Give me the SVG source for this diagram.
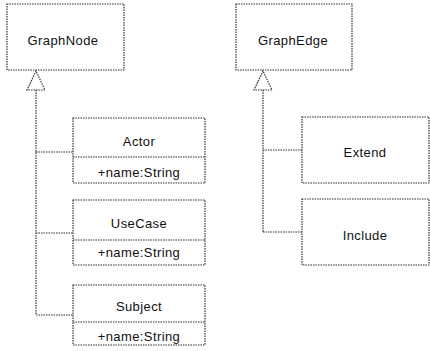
<svg xmlns="http://www.w3.org/2000/svg" width="430" height="351" viewBox="0 0 430 351">
<style>
.box{fill:#fff;stroke:#333;stroke-width:1.2;stroke-dasharray:1.5 1}
.ln{fill:none;stroke:#333;stroke-width:1.2;stroke-dasharray:1.5 1}
.tri{fill:#fff;stroke:#333;stroke-width:1.2;stroke-dasharray:1.5 1}
text{font-family:"Liberation Sans",Arial,sans-serif;font-size:13px;fill:#111;text-anchor:middle;letter-spacing:0.4px}
</style>
<rect width="430" height="351" fill="#fff"/>
<g id="connectors">
<path class="ln" d="M36 90V315M36 152H73M36 233H73M36 315H73"/>
<polygon class="tri" points="36,71 27,90 45,90"/>
<path class="ln" d="M263 90V232M263 150H302M263 232H302"/>
<polygon class="tri" points="263,71 254,90 272,90"/>
</g>
<g id="GraphNode">
<rect class="box" x="7" y="4" width="117" height="66"/>
<text x="63" y="44.5">GraphNode</text>
</g>
<g id="GraphEdge">
<rect class="box" x="236" y="4" width="116" height="66"/>
<text x="293" y="44.5">GraphEdge</text>
</g>
<g id="Actor">
<rect class="box" x="73" y="118" width="132" height="65"/>
<line class="ln" x1="73" y1="157" x2="205" y2="157"/>
<text x="139" y="146">Actor</text>
<text x="139" y="176.5">+name:String</text>
</g>
<g id="UseCase">
<rect class="box" x="73" y="200" width="132" height="65"/>
<line class="ln" x1="73" y1="240" x2="205" y2="240"/>
<text x="139" y="227.5">UseCase</text>
<text x="139" y="256.5">+name:String</text>
</g>
<g id="Subject">
<rect class="box" x="73" y="285" width="132" height="60"/>
<line class="ln" x1="73" y1="322" x2="205" y2="322"/>
<text x="139" y="310.5">Subject</text>
<text x="139" y="341">+name:String</text>
</g>
<g id="Extend">
<rect class="box" x="302" y="117" width="127" height="66"/>
<text x="365" y="156.5">Extend</text>
</g>
<g id="Include">
<rect class="box" x="302" y="199" width="127" height="66"/>
<text x="365" y="239.5">Include</text>
</g>
</svg>
